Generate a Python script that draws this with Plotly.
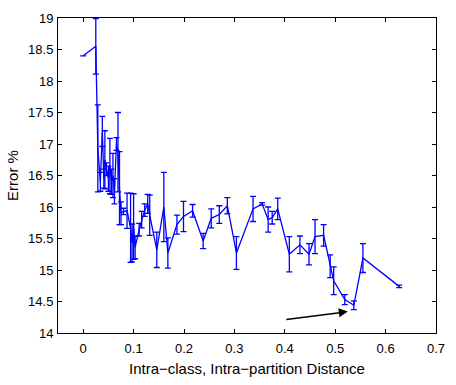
import plotly.graph_objects as go

x_vals = [0.000, 0.025, 0.029, 0.034, 0.038, 0.041, 0.043, 0.046, 0.050, 0.053,
          0.056, 0.059, 0.062, 0.066, 0.069, 0.072, 0.075, 0.080, 0.087, 0.094,
          0.097, 0.100, 0.103, 0.111, 0.116, 0.122, 0.128, 0.132, 0.146, 0.160,
          0.168, 0.186, 0.199, 0.217, 0.238, 0.254, 0.270, 0.286, 0.304, 0.337,
          0.355, 0.367, 0.375, 0.386, 0.409, 0.430, 0.448, 0.460, 0.477, 0.490,
          0.497, 0.519, 0.537, 0.555, 0.627]
err_pct = [18.40, 18.55, 16.93, 16.40, 17.20, 16.45, 16.75, 16.60, 16.45, 16.65,
           16.40, 16.50, 16.25, 17.00, 16.87, 16.30, 15.90, 15.93, 15.94, 15.67,
           15.43, 15.69, 15.36, 15.64, 15.80, 15.95, 16.05, 15.87, 15.32, 16.00,
           15.27, 15.72, 15.85, 15.94, 15.46, 15.82, 15.88, 16.02, 15.27, 15.97,
           16.05, 15.80, 15.83, 15.97, 15.25, 15.40, 15.25, 15.53, 15.55, 15.06,
           14.83, 14.53, 14.44, 15.19, 14.74]
err_bar = [0.00, 0.44, 0.69, 0.15, 0.24, 0.15, 0.46, 0.10, 0.20, 0.44,
           0.20, 0.35, 0.20, 0.10, 0.63, 0.58, 0.18, 0.05, 0.28, 0.55,
           0.30, 0.52, 0.18, 0.10, 0.13, 0.10, 0.15, 0.32, 0.28, 0.55,
           0.24, 0.15, 0.24, 0.10, 0.12, 0.15, 0.14, 0.13, 0.26, 0.20,
           0.02, 0.20, 0.10, 0.17, 0.28, 0.14, 0.17, 0.27, 0.17, 0.18,
           0.22, 0.08, 0.07, 0.23, 0.02]

x_ticks = [0, 0.1, 0.2, 0.3, 0.4, 0.5, 0.6, 0.7]
x_tick_labels = ["0", "0.1", "0.2", "0.3", "0.4", "0.5", "0.6", "0.7"]
y_ticks = [14, 14.5, 15, 15.5, 16, 16.5, 17, 17.5, 18, 18.5, 19]
y_tick_labels = ["14", "14.5", "15", "15.5", "16", "16.5", "17", "17.5", "18", "18.5", "19"]

arrow_tail = (0.40, 14.21)
arrow_head = (0.525, 14.34)

FONT = "Liberation Sans, Arial"

fig = go.Figure()
fig.add_trace(go.Scatter(
    x=x_vals, y=err_pct, mode="lines",
    line=dict(color="#0000ff", width=1.3),
    error_y=dict(type="data", array=err_bar, visible=True,
                 color="#0000ff", thickness=1.3, width=3),
    showlegend=False,
))

fig.add_annotation(
    x=arrow_head[0], y=arrow_head[1], ax=arrow_tail[0], ay=arrow_tail[1],
    xref="x", yref="y", axref="x", ayref="y",
    showarrow=True, arrowhead=2, arrowsize=1.2, arrowwidth=1.5,
    arrowcolor="black", text="",
)

axis_common = dict(
    showgrid=False, zeroline=False, showline=True, linecolor="black",
    linewidth=1, mirror="ticks", ticks="inside", ticklen=4,
    tickcolor="black", tickfont=dict(family=FONT, size=13, color="black"),
)

fig.update_xaxes(range=[-0.05, 0.7], tickvals=x_ticks, ticktext=x_tick_labels,
                 ticklabelstandoff=3,
                 title=dict(text="Intra\u2212class, Intra\u2212partition Distance",
                            font=dict(family=FONT, size=15, color="black"),
                            standoff=8),
                 **axis_common)
fig.update_yaxes(range=[14, 19], tickvals=y_ticks, ticktext=y_tick_labels,
                 ticklabelstandoff=1,
                 title=dict(text="Error %",
                            font=dict(family=FONT, size=15, color="black"),
                            standoff=5),
                 **axis_common)

fig.update_layout(
    width=456, height=385,
    margin=dict(l=58, r=11, t=14, b=49),
    plot_bgcolor="white", paper_bgcolor="white",
    font=dict(family=FONT, color="black"),
)

fig.write_html("out.html")
